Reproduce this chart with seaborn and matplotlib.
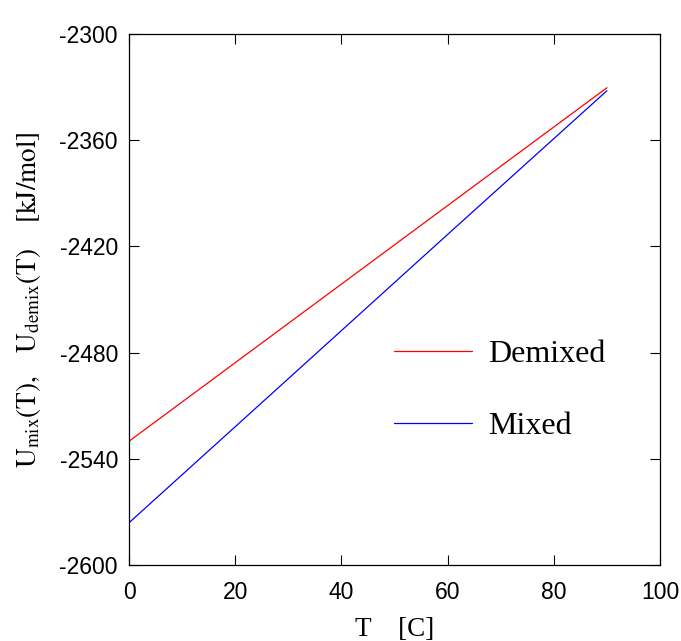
import matplotlib
matplotlib.use("Agg")
import matplotlib.pyplot as plt
import seaborn as sns
import pandas as pd

# Data
temps = [0, 30, 60, 90]
u_demixed = [-2530.0, -2463.5, -2397.0, -2330.5]
u_mixed = [-2576.0, -2494.7, -2413.3, -2332.2]
series_names = ["Demixed", "Mixed"]
series_colors = ["#ff0000", "#0000ff"]
xticks = [0, 20, 40, 60, 80, 100]
yticks = [-2600, -2540, -2480, -2420, -2360, -2300]

df = pd.DataFrame({
    "T": temps + temps,
    "U": u_demixed + u_mixed,
    "series": [series_names[0]] * len(temps) + [series_names[1]] * len(temps),
})

sns.set_style("ticks")
plt.rcParams["font.family"] = ["Liberation Sans", "DejaVu Sans"]
plt.rcParams["mathtext.fontset"] = "stix"
for k in ["text.color", "axes.labelcolor", "xtick.color", "ytick.color", "axes.edgecolor"]:
    plt.rcParams[k] = "black"

fig = plt.figure(figsize=(6.81, 6.41), dpi=100)
ax = fig.add_axes([129 / 681, 1 - 565.3 / 641, (660 - 129) / 681, (565.3 - 33.7) / 641])

sns.lineplot(data=df, x="T", y="U", hue="series", palette=series_colors,
             hue_order=series_names, linewidth=0.9, ax=ax, legend=True)

ax.set_xlim(0, 100)
ax.set_ylim(-2600, -2300)
ax.set_xticks(xticks)
ax.set_yticks(yticks)
ax.set_xticklabels([str(t) for t in xticks])
ax.set_yticklabels([str(t) for t in yticks])
ax.tick_params(direction="in", length=7, width=0.8, color="black", labelcolor="black",
               top=True, right=True, labelsize=16.5, pad=8)
ax.tick_params(axis="x", pad=11)
for s in ax.spines.values():
    s.set_linewidth(0.9)
    s.set_color("black")

ax.set_xlabel("T    [C]", family=["Liberation Serif"], fontsize=19.5, labelpad=10,
              color="black")
ax.set_ylabel(r"$\mathrm{U_{mix}(T),\ \ \ U_{demix}(T)\ \ \ \ [kJ/mol]}$",
              fontsize=19.5, labelpad=12, color="black")

leg = ax.legend(loc="center left", bbox_to_anchor=(0.444, 0.329), frameon=False,
                handlelength=2.45, handletextpad=0.5, labelspacing=1.32,
                prop={"family": "Liberation Serif", "size": 23})
for line in leg.get_lines():
    line.set_linewidth(0.9)
for t in leg.get_texts():
    t.set_color("black")

fig.savefig("out.png", dpi=100)
